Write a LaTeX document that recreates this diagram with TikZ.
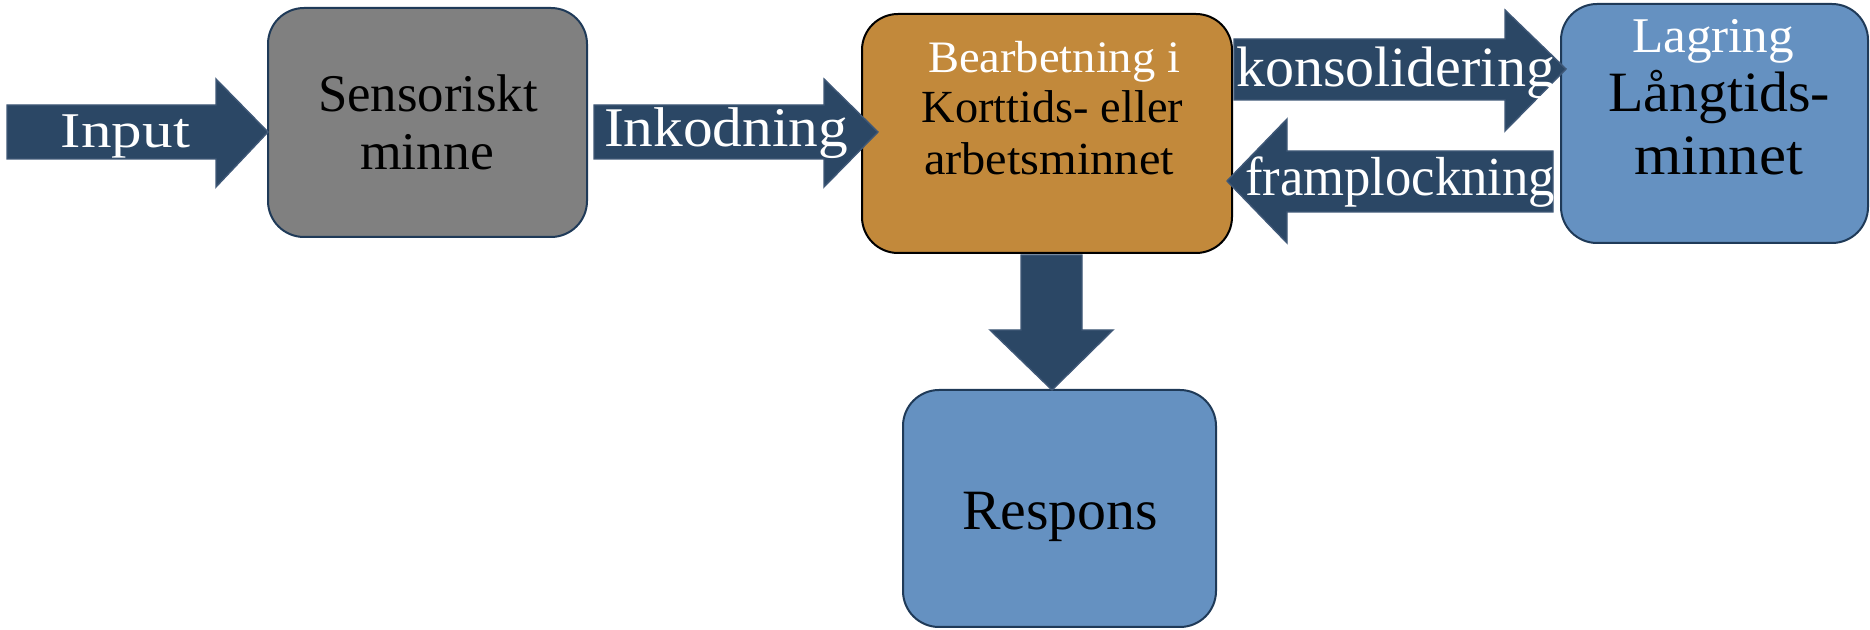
\documentclass[tikz,border=0pt]{standalone}
\usepackage{fontspec}
\usepackage{graphicx}
\setmainfont{Liberation Serif}

\definecolor{navy}{HTML}{2B4765}
\definecolor{navyedge}{HTML}{3F5877}
\definecolor{boxedge}{HTML}{1F3A58}
\definecolor{greybox}{HTML}{808080}
\definecolor{ochre}{HTML}{C2893B}
\definecolor{steel}{HTML}{6591C1}

% set text at a given size and stretch it horizontally to a given width
\newcommand{\fitw}[3]{\resizebox{#2}{\height}{\fontsize{#1}{#1}\selectfont #3}}

\begin{document}
\begin{tikzpicture}[x=0.5pt,y=-0.5pt,
  memorybox/.style={rectangle, rounded corners=18pt, inner sep=0pt, outer sep=0pt,
    line width=1pt, draw=boxedge},
  blockarrow/.style={fill=navy, draw=navyedge, line width=0.7pt, line join=miter},
  lbl/.style={inner sep=0pt, outer sep=0pt, anchor=base},
  wlbl/.style={lbl, text=white},
  blbl/.style={lbl, text=black}]

\useasboundingbox (0,0) rectangle (1870,630);

% memory stores
\node[memorybox, fill=greybox, minimum width=159.5pt, minimum height=114.5pt] (sens) at (427.5,122.5) {};
\node[memorybox, fill=ochre, draw=black, minimum width=185pt, minimum height=119.5pt] (work) at (1047,133.5) {};
\node[memorybox, fill=steel, minimum width=153.5pt, minimum height=119.5pt] (ltm) at (1714.5,123.5) {};
\node[memorybox, fill=steel, minimum width=156.5pt, minimum height=118.5pt] (resp) at (1059.5,508.5) {};

% block arrows between the stores
\coordinate (inTip) at (268,132);
\coordinate (encTip) at (878,132);
\coordinate (consTip) at (1566,69);
\coordinate (retrTip) at (1227,181);
\coordinate (respTip) at (1052,390);

\filldraw[blockarrow] (7,105) -- (216,105) -- (216,79) -- (inTip) -- (216,187) -- (216,159) -- (7,159) -- cycle;
\filldraw[blockarrow] (594,105) -- (824,105) -- (824,79) -- (encTip) -- (824,187) -- (824,159) -- (594,159) -- cycle;
\filldraw[blockarrow] (1234,39) -- (1505,39) -- (1505,10) -- (consTip) -- (1505,131) -- (1505,100) -- (1234,100) -- cycle;
\filldraw[blockarrow] (1553,151) -- (1287,151) -- (1287,119) -- (retrTip) -- (1287,243) -- (1287,212) -- (1553,212) -- cycle;
\filldraw[blockarrow] (1021,255) -- (1082,255) -- (1082,330) -- (1113,330) -- (respTip) -- (990,330) -- (1021,330) -- cycle;

% arrow labels
\node[wlbl] (tInput) at (125.5,148) {\fitw{25pt}{64.5pt}{Input}};
\node[wlbl] (tEnc) at (726,147) {\fitw{28pt}{122pt}{Inkodning}};
\node[wlbl] (tCons) at (1395.5,87) {\fitw{28.5pt}{159.5pt}{konsolidering}};
\node[wlbl] (tRetr) at (1400,196) {\fitw{27.5pt}{155pt}{framplockning}};

% store labels
\node[blbl] (tSens1) at (428,112) {\fitw{26.5pt}{110pt}{Sensoriskt}};
\node[blbl] (tSens2) at (427,170) {\fitw{26.5pt}{67pt}{minne}};

\node[wlbl] (tWork1) at (1054,73) {\fitw{22.5pt}{126pt}{Bearbetning i}};
\node[blbl] (tWork2) at (1052.5,123) {\fitw{23pt}{130.5pt}{Korttids- eller}};
\node[blbl] (tWork3) at (1049,175) {\fitw{23pt}{125pt}{arbetsminnet}};

\node[wlbl] (tLtm1) at (1713,53) {\fitw{25pt}{81pt}{Lagring}};
\node[blbl] (tLtm2) at (1719,112) {\fitw{28.5pt}{111pt}{Långtids-}};
\node[blbl] (tLtm3) at (1718.5,175) {\fitw{28.5pt}{84.5pt}{minnet}};

\node[blbl] (tResp) at (1060,530) {\fitw{28.5pt}{98pt}{Respons}};

\end{tikzpicture}
\end{document}
